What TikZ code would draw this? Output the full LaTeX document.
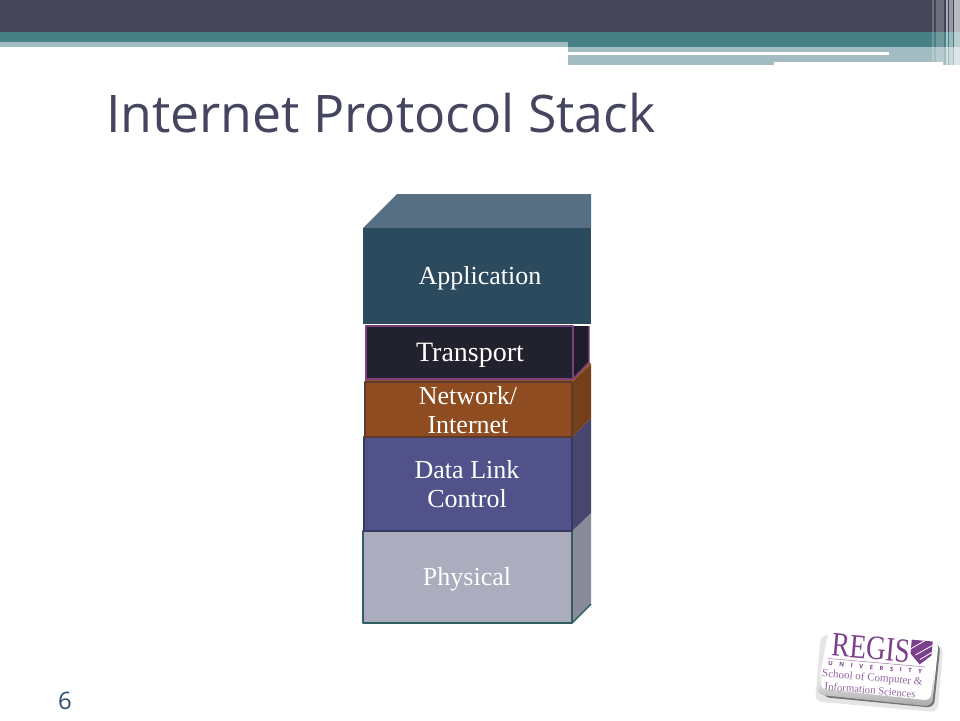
\documentclass[tikz,border=0pt]{standalone}
\usepackage{fontspec}
\setmainfont{Liberation Serif}
\setsansfont{Open Sans}
\definecolor{hdark}{HTML}{45455A}
\definecolor{hteal}{HTML}{478085}
\definecolor{hlight}{HTML}{A3BCC1}
\definecolor{titlec}{HTML}{45455F}
\definecolor{regis}{HTML}{7C3F8C}
\definecolor{physside}{HTML}{8A8B9A}
\definecolor{physedge}{HTML}{2F6060}
\definecolor{physfront}{HTML}{ABACBD}
\definecolor{dlside}{HTML}{46466F}
\definecolor{dledge}{HTML}{37375F}
\definecolor{dlfront}{HTML}{52528A}
\definecolor{netside}{HTML}{74401C}
\definecolor{nettop}{HTML}{965528}
\definecolor{netedge}{HTML}{5C3A30}
\definecolor{netfront}{HTML}{8E4C20}
\definecolor{trside}{HTML}{1D1D2B}
\definecolor{tredge}{HTML}{7A3F7E}
\definecolor{trfront}{HTML}{22222E}
\definecolor{apptop}{HTML}{566F83}
\definecolor{appfront}{HTML}{2C4A5E}
\definecolor{pagec}{HTML}{2F4F6F}
\tikzset{x=1pt,y=-1pt,
  lay/.style={font=\fontsize{26}{29}\selectfont,text=white,align=center,inner sep=0pt},
  face/.style={line width=1.6pt,line join=round},
  stripe/.style={fill=white,draw=none},
  logotext/.style={text=regis,inner sep=0pt}}
\begin{document}
\begin{tikzpicture}
\useasboundingbox (0,0) rectangle (960,720);
\fill[white] (0,0) rectangle (960,720);
% header
\fill[hdark] (0,0) rectangle (960,32);
\fill[hteal] (0,32) rectangle (960,47);
\fill[white] (0,47) rectangle (568,60);
\fill[hlight] (0,42) rectangle (568,47);
\fill[hlight] (568,47) rectangle (960,52);
\fill[white] (568,52) rectangle (889,55);
\fill[hlight] (889,52) rectangle (960,55);
\fill[hlight] (568,55) rectangle (774,65);
\fill[hlight] (774,55) rectangle (943,62);
\fill[hlight] (943,55) rectangle (960,65);
\fill[stripe,opacity=.22] (932,0) rectangle (934,66);
\fill[stripe,opacity=.22] (936,0) rectangle (944,66);
\fill[stripe,opacity=.55] (946,0) rectangle (948,66);
\fill[stripe,opacity=.45] (949,0) rectangle (953,66);
\fill[stripe,opacity=.62] (954,0) rectangle (960,66);
% title
\node[anchor=base west,inner sep=0pt,text=titlec,font=\sffamily\fontsize{51.8}{52}\selectfont] (title) at (106,132) {Internet Protocol Stack};
% Physical
\fill[physside] (572,531) -- (591,513) -- (591,604) -- (572,623) -- cycle;
\draw[line width=1.4pt,physedge] (572,623) -- (591,604);
\draw[face,draw=physedge,fill=physfront] (363,531) rectangle (572,623);
\node[lay] (physical) at (467,579) {Physical};
% Data link
\fill[dlside] (572,437) -- (591,418) -- (591,513) -- (572,531) -- cycle;
\draw[face,draw=dledge,fill=dlfront] (364,437) rectangle (572,531);
\node[lay] (datalink) at (467,484) {Data Link\\Control};
% Network
\fill[netside] (572,382) -- (591,364) -- (591,418) -- (572,437) -- cycle;
\fill[nettop] (365,379) -- (573,379) -- (589,362) -- (591,364) -- (572,382) -- (365,382) -- cycle;
\draw[face,draw=netedge,fill=netfront] (365,382) rectangle (572,437);
\node[lay] (network) at (468,410.5) {Network/\\Internet};
% Transport
\fill[trside] (573,326) -- (589,326) -- (589,362) -- (573,379) -- cycle;
\draw[line width=1.4pt,tredge] (589,326) -- (589,362) -- (573,379);
\draw[face,line width=2pt,draw=tredge,fill=trfront] (366,326) rectangle (573,379);
\node[lay,font=\fontsize{28}{29}\selectfont] (transport) at (470,355) {Transport};
% Application
\fill[apptop] (363,228) -- (397,194) -- (591,194) -- (591,228) -- cycle;
\fill[appfront] (363,228) rectangle (591,324);
\node[lay] (application) at (480,278) {Application};
% page number
\node[inner sep=0pt,text=pagec,font=\sffamily\fontsize{24}{24}\selectfont] (page) at (65,701) {6};
% logo
\begin{scope}[rotate around={-5:(880,670)},transform shape]
\fill[black!10,rounded corners=7pt] (818,640) rectangle (941,707);
\fill[black!55,rounded corners=7pt] (830,639) -- (938,639) -- (937,703) -- (825,702) -- cycle;
\shade[top color=white,bottom color=black!35,middle color=white,rounded corners=7pt] (825,637) -- (936,637) -- (935,702) -- (819,700) -- cycle;
\fill[white,rounded corners=6pt] (826,638) -- (934,638) -- (933,696) -- (822,694) -- cycle;
\node[logotext,font=\fontsize{34}{34}\selectfont] (regisname) at (869,649) {\scalebox{.8}[1]{REGIS}};
\fill[regis] (909,637) -- (930,637) -- (930,651) -- (919,661) -- (909,651) -- cycle;
\draw[white,line width=.8pt] (909,646) -- (922,637) (914,652) -- (930,641) (919,656) -- (930,648);
\draw[regis!70,line width=.5pt] (827,663) -- (925,663);
\node[logotext,font=\fontsize{6}{7}\bfseries\sffamily\selectfont] (univ) at (875,668) {\makebox[94pt][s]{U\hfill N\hfill I\hfill V\hfill E\hfill R\hfill S\hfill I\hfill T\hfill Y}};
\node[logotext,opacity=.8,font=\fontsize{11}{12}\selectfont] (school) at (873,679) {School of Computer \&};
\node[logotext,opacity=.8,font=\fontsize{10.7}{12}\selectfont] (info) at (872,691) {Information Sciences};
\end{scope}
\end{tikzpicture}
\end{document}
